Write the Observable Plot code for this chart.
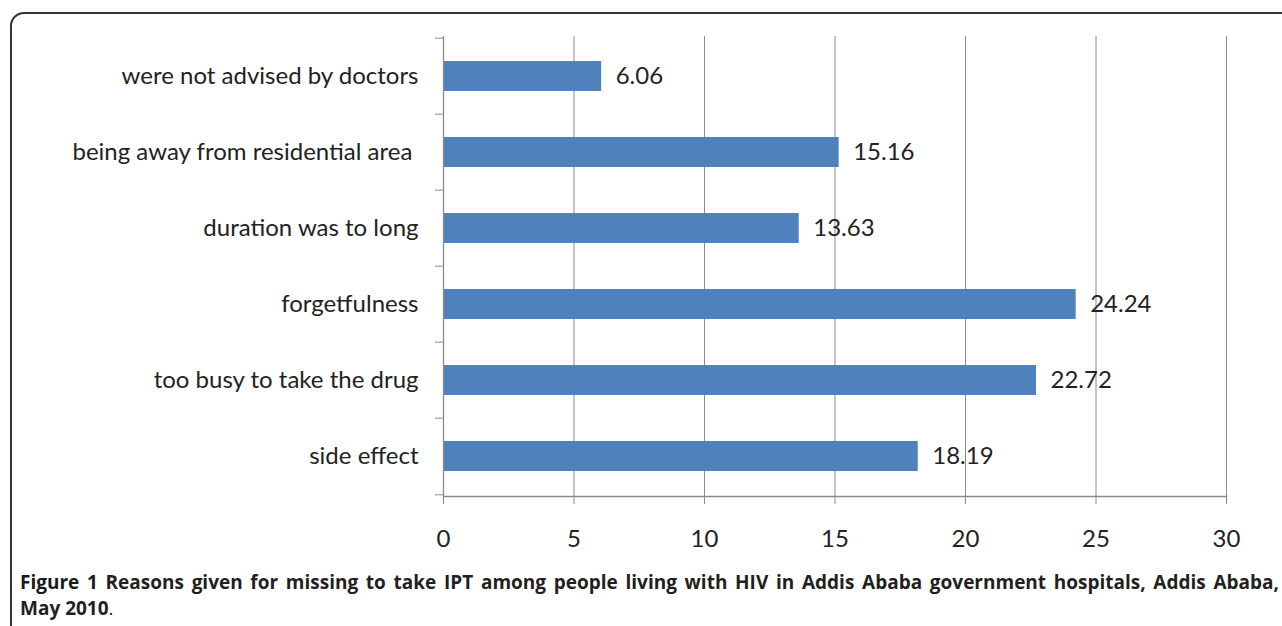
<!DOCTYPE html>
<html>
<head>
<meta charset="utf-8">
<script src="https://cdn.jsdelivr.net/npm/d3@7"></script>
<script src="https://cdn.jsdelivr.net/npm/@observablehq/plot@0.6"></script>
<style>
  html, body { margin: 0; padding: 0; background: #fff; width: 1282px; height: 626px; overflow: hidden; }
  #box { position: absolute; left: 10px; top: 12px; width: 1300px; height: 640px; border: 2px solid #333; border-radius: 14px; box-sizing: border-box; }
  #chart { position: absolute; left: 0; top: 0; }
  #caption { position: absolute; left: 20px; top: 569px; width: 1259px; font-family: "Open Sans", sans-serif; font-size: 19px; font-weight: 700; color: #231f20; line-height: 26px; }
  #caption .l1 { text-align: justify; text-align-last: justify; white-space: nowrap; }
  #caption .fig { font-weight: 700; color: #1a1a1a; }
</style>
</head>
<body>
<div id="box"></div>
<div id="chart"></div>
<div id="caption">
  <div class="l1"><span class="fig">Figure 1</span> Reasons given for missing to take IPT among people living with HIV in Addis Ababa government hospitals, Addis Ababa,</div>
  <div>May 2010<span style="font-weight:normal">.</span></div>
</div>
<script>
const reasons = [
  "were not advised by doctors",
  "being away from residential area ",
  "duration was to long",
  "forgetfulness",
  "too busy to take the drug",
  "side effect"
];
const percents = [6.06, 15.16, 13.63, 24.24, 22.72, 18.19];
const xTicks = [0, 5, 10, 15, 20, 25, 30];

const data = reasons.map((r, i) => ({reason: r, value: percents[i]}));

const W = 1282, H = 560, mT = 36, mB = 64, mL = 443, mR = 56;
const step = (H - mT - mB) / reasons.length;
const font = "Lato, 'Open Sans', sans-serif";

const chart = Plot.plot({
  width: W,
  height: H,
  marginTop: mT,
  marginBottom: mB,
  marginLeft: mL,
  marginRight: mR,
  style: {fontFamily: font, fontSize: "24px", color: "#222", background: "transparent"},
  x: {domain: [0, 30], ticks: xTicks},
  y: {domain: reasons, paddingInner: 0.6, paddingOuter: 0.3},
  marks: [
    Plot.gridX(xTicks.slice(1), {stroke: "#8a8a8a", strokeOpacity: 1, strokeWidth: 1}),
    Plot.barX(data, {x: "value", y: "reason", fill: "#4f81bd"}),
    Plot.text(data, {x: "value", y: "reason", text: d => d3.format(".2f")(d.value), dx: 14, textAnchor: "start", fill: "#222", fontSize: 24}),
    Plot.ruleX([0], {stroke: "#8a8a8a", strokeWidth: 1.3}),
    Plot.axisX(xTicks, {tickSize: 8, tickPadding: 25, stroke: "#8a8a8a", fill: "#222", fontSize: 24, label: null}),
    Plot.frame({anchor: "bottom", stroke: "#8a8a8a", strokeWidth: 1.3}),
    Plot.axisY({tickSize: 0, tickPadding: 25, fill: "#222", fontSize: 24, label: null}),
    Plot.axisY({tickSize: 8, text: null, dy: -step / 2, stroke: "#8a8a8a", label: null}),
    Plot.axisY([reasons[reasons.length - 1]], {tickSize: 8, text: null, dy: step / 2, stroke: "#8a8a8a", label: null})
  ]
});
document.getElementById("chart").append(chart);
</script>
</body>
</html>
